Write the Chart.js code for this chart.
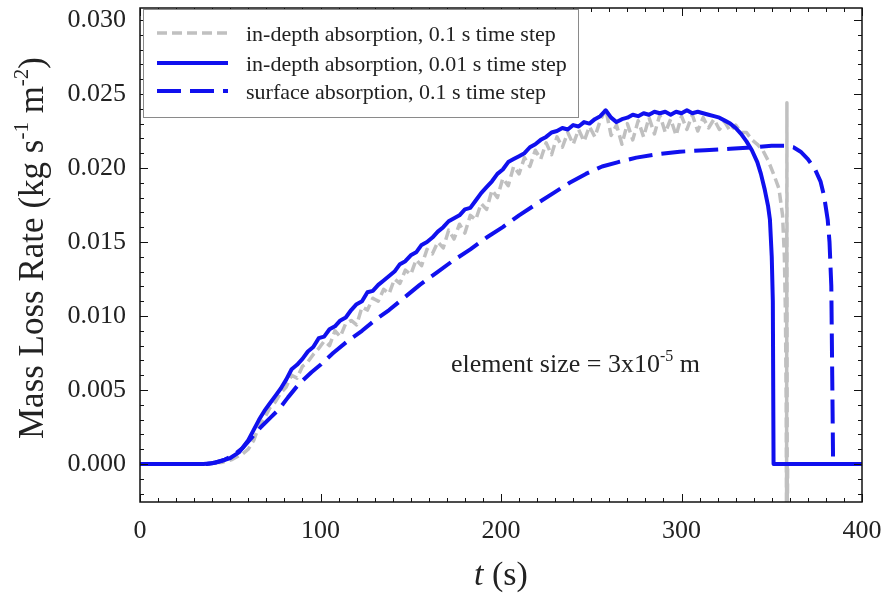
<!DOCTYPE html>
<html><head><meta charset="utf-8">
<script src="https://cdn.jsdelivr.net/npm/chart.js@4.4.1/dist/chart.umd.min.js"></script>
<style>html,body{margin:0;padding:0;background:#fff}</style>
</head><body><canvas id="c" width="886" height="594"></canvas>
<script>
// ---------- data ----------
const seriesNames = [
  "in-depth absorption, 0.1 s time step",
  "in-depth absorption, 0.01 s time step",
  "surface absorption, 0.1 s time step"
];
const xTicks = [0, 100, 200, 300, 400];
const yTicks = [0, 0.005, 0.010, 0.015, 0.020, 0.025, 0.030];

// in-depth absorption, 0.1 s time step (gray dashed)
const grayT = [0,36,39,42,45,48,51,54,57,60,63,66,69,72,75,78,81,84,87,90,93,96,99,102,105,108,111,114,117,120,
  123,126,129,132,135,138,141,144,147,150,153,156,159,162,165,168,171,174,177,180,183,186,189,192,195,198,201,204,207,210,
  213,216,219,222,225,228,231,234,237,240,243,246,249,252,255,258,261,264,267,270,273,276,279,282,285,288,291,294,297,300,
  303,306,309,312,315,318,321,324,327,330,333,336,339,342,345,348,351,354,356,357,357.6,358.0,358.2,358.4,358.6,358.8,400];
const grayV = [0,0,0.00002,0.0001,0.0001,0.0002,0.0003,0.0005,0.0007,0.0010,0.0016,0.0026,0.0031,0.0038,0.0042,0.0048,0.0052,0.0060,0.0058,0.0066,0.0069,0.0074,0.0078,0.0083,0.0080,0.0090,0.0086,0.0095,0.0097,0.0094,
  0.0106,0.0104,0.0112,0.0110,0.0118,0.0115,0.0125,0.0122,0.0131,0.0128,0.0138,0.0134,0.0145,0.0142,0.0150,0.0146,0.0158,0.0152,0.0162,0.0156,0.0168,0.0165,0.0176,0.0172,0.0185,0.0180,0.0193,0.0188,0.0201,0.0196,
  0.0207,0.0201,0.0212,0.0206,0.0217,0.0209,0.0221,0.0214,0.0224,0.0216,0.0226,0.0218,0.0228,0.0221,0.0232,0.0240,0.0222,0.0229,0.0216,0.0230,0.0219,0.0232,0.0221,0.0234,0.0223,0.0236,0.0224,0.0233,0.0222,0.0235,
  0.0226,0.0236,0.0225,0.0234,0.0227,0.0233,0.0226,0.0231,0.0225,0.0229,0.0224,0.0224,0.0219,0.0216,0.0212,0.0205,0.0196,0.0186,0.0168,0.0140,0.0100,0.0040,-0.0050,0.0244,-0.0050,0,0];

// in-depth absorption, 0.01 s time step (blue solid)
const solidT = [0,35,40,45,50,55,60,63,66,69,72,75,78,81,84,87,90,93,96,99,102,105,108,111,114,117,120,123,126,129,
  132,135,138,141,144,147,150,153,156,159,162,165,168,171,174,177,180,183,186,189,192,195,198,201,204,207,210,213,216,219,
  222,225,228,231,234,237,240,243,246,249,252,255,258,261,264,267,270,273,276,279,282,285,288,291,294,297,300,303,306,309,
  312,315,318,321,324,327,330,333,336,339,342,344,346,348,349,350,350.6,351,400];
const solidV = [0,0,0.00005,0.0002,0.0004,0.0008,0.0016,0.0023,0.0030,0.0036,0.0041,0.0046,0.0051,0.0057,0.0064,0.0067,0.0071,0.0076,0.0079,0.0085,0.0086,0.0091,0.0093,0.0097,0.0099,0.0104,0.0108,0.0110,0.0116,0.0117,
  0.0121,0.0124,0.0127,0.0130,0.0135,0.0137,0.0141,0.0143,0.0148,0.0150,0.0153,0.0157,0.0160,0.0164,0.0166,0.0168,0.0172,0.0173,0.0178,0.0183,0.0187,0.0191,0.0196,0.0199,0.0204,0.0206,0.0208,0.0210,0.0214,0.0216,
  0.0219,0.0221,0.0224,0.0225,0.0227,0.0226,0.0229,0.0228,0.0231,0.0230,0.0233,0.0235,0.0239,0.0234,0.0231,0.0233,0.0234,0.0236,0.0235,0.0237,0.0236,0.0238,0.0237,0.0238,0.0236,0.0238,0.0237,0.0239,0.0237,0.0238,
  0.0237,0.0236,0.0235,0.0234,0.0232,0.0230,0.0227,0.0223,0.0218,0.0212,0.0204,0.0196,0.0186,0.0174,0.0165,0.0140,0.0110,0,0];

// surface absorption, 0.1 s time step (blue dashed)
const surfT = [0,37,42,47,52,57,62,67,72,77,82,88,95,100,107,115,123,130,138,146,155,164,173,183,192,201,210,220,229,238,
  247,256,265,275,285,299,313,327,340,350,357,362,366,370,374,377,379,381,382,383,383.5,384,400];
const surfV = [0,0,0.0001,0.0003,0.0006,0.0011,0.0018,0.0025,0.0031,0.0037,0.0045,0.0054,0.0062,0.0067,0.0075,0.0083,0.0090,0.0097,0.0104,0.0112,0.0121,0.0129,0.0137,0.0145,0.0153,0.0160,0.0168,0.0176,0.0183,0.0190,
  0.0196,0.0201,0.0204,0.0207,0.0209,0.0211,0.0212,0.0213,0.0214,0.0215,0.0215,0.0214,0.0211,0.0206,0.0199,0.0191,0.0181,0.0165,0.0150,0.0120,0.0060,0,0];

const yTitleParts = [{t:"Mass Loss Rate (kg s"},{t:"-1",sup:true},{t:" m"},{t:"-2",sup:true},{t:")"}];
const xTitleParts = [{t:"t",it:true},{t:" (s)"}];
const noteParts = [{t:"element size = 3x10"},{t:"-5",sup:true},{t:" m"}];

// ---------- styles ----------
const SERIF = "'Liberation Serif','Times New Roman',serif";
const GRAY = "#c0c0c0", BLUE = "#1010ee";
const styles = [
  {color:GRAY, width:3.5, dash:[10,5]},
  {color:BLUE, width:4, dash:[]},
  {color:BLUE, width:4, dash:[24,9]}
];
function pts(T,V){return T.map((t,i)=>({x:t,y:V[i]}));}

function drawRich(ctx, parts, size, x, y, align){
  const supSize = Math.round(size*0.6);
  let total = 0;
  const w = parts.map(p=>{
    ctx.font = (p.it?"italic ":"") + (p.sup?supSize:size) + "px " + SERIF;
    const m = ctx.measureText(p.t).width; total += m; return m;});
  let cx = align==="center" ? x - total/2 : x;
  parts.forEach((p,i)=>{
    ctx.font = (p.it?"italic ":"") + (p.sup?supSize:size) + "px " + SERIF;
    ctx.fillText(p.t, cx, p.sup ? y - size*0.42 : y);
    cx += w[i];
  });
}
function noPad(s){s.paddingTop=0;s.paddingBottom=0;s.paddingLeft=0;s.paddingRight=0;}

const framePlugin = {
  id:"frame",
  afterDatasetsDraw(chart){
    const {ctx, chartArea:a, scales} = chart;
    const xs = scales.x, ys = scales.y;
    ctx.save();
    ctx.strokeStyle = "#111"; ctx.lineWidth = 1.5;
    ctx.strokeRect(a.left, a.top, a.right-a.left, a.bottom-a.top);
    ctx.lineWidth = 1;
    ctx.beginPath();
    for(let v=0; v<=400; v+=10){
      const p = Math.round(xs.getPixelForValue(v))+0.5;
      const L = (v%100===0)?8:4;
      ctx.moveTo(p,a.bottom); ctx.lineTo(p,a.bottom-L);
      ctx.moveTo(p,a.top); ctx.lineTo(p,a.top+L);
    }
    for(let k=-2; k<=30; k++){
      const v = k/1000;
      const p = Math.round(ys.getPixelForValue(v))+0.5;
      const L = (k%5===0)?8:4;
      ctx.moveTo(a.left,p); ctx.lineTo(a.left+L,p);
      ctx.moveTo(a.right,p); ctx.lineTo(a.right-L,p);
    }
    ctx.stroke();
    ctx.restore();
  },
  afterDraw(chart){
    const {ctx, chartArea:a} = chart;
    ctx.save();
    // legend
    ctx.fillStyle="#fff"; ctx.fillRect(143.5,9.5,435,108);
    ctx.strokeStyle="#8a8a8a"; ctx.lineWidth=1; ctx.strokeRect(143.5,9.5,435,108);
    const ly = [33,63,91];
    seriesNames.forEach((n,i)=>{
      const s = styles[i];
      ctx.strokeStyle=s.color; ctx.lineWidth=s.width; ctx.setLineDash(s.dash);
      ctx.beginPath(); ctx.moveTo(157,ly[i]); ctx.lineTo(228,ly[i]); ctx.stroke();
      ctx.setLineDash([]);
      ctx.fillStyle="#222"; ctx.font="22px "+SERIF; ctx.textBaseline="middle"; ctx.textAlign="left";
      ctx.fillText(n, 246, ly[i]+2);
    });
    // note
    ctx.textBaseline="alphabetic"; ctx.fillStyle="#222";
    drawRich(ctx, noteParts, 26, 451, 372, "left");
    // x title
    drawRich(ctx, xTitleParts, 34, (a.left+a.right)/2, 585, "center");
    // y title
    ctx.translate(43, 248); ctx.rotate(-Math.PI/2);
    drawRich(ctx, yTitleParts, 35, 0, 0, "center");
    ctx.restore();
  }
};

new Chart(document.getElementById("c"), {
  type:"line",
  data:{datasets:[
    {label:seriesNames[0], data:pts(grayT,grayV), borderColor:GRAY, borderWidth:styles[0].width, borderDash:styles[0].dash, order:3},
    {label:seriesNames[1], data:pts(solidT,solidV), borderColor:BLUE, borderWidth:styles[1].width, borderDash:styles[1].dash, order:1},
    {label:seriesNames[2], data:pts(surfT,surfV), borderColor:BLUE, borderWidth:styles[2].width, borderDash:styles[2].dash, order:2}
  ]},
  options:{
    responsive:false, animation:false, devicePixelRatio:1,
    parsing:false,
    elements:{point:{radius:0}, line:{tension:0, fill:false, borderCapStyle:"butt", borderJoinStyle:"round"}},
    layout:{padding:{top:8,right:24,left:0,bottom:0}},
    plugins:{legend:{display:false}, tooltip:{enabled:false}},
    scales:{
      x:{type:"linear", min:0, max:400,
        grid:{display:false, drawTicks:false}, border:{display:false},
        afterBuildTicks(s){s.ticks = xTicks.map(v=>({value:v}));},
        afterFit(s){s.height = 92; noPad(s);},
        ticks:{font:{family:SERIF,size:26}, color:"#222", padding:14, maxRotation:0, callback:v=>String(v)}},
      y:{type:"linear", min:-0.00257, max:0.03081,
        grid:{display:false, drawTicks:false}, border:{display:false},
        afterBuildTicks(s){s.ticks = yTicks.map(v=>({value:v}));},
        afterFit(s){s.width = 140; noPad(s);},
        ticks:{font:{family:SERIF,size:26}, color:"#222", padding:14, callback:v=>Number(v).toFixed(3)}}
    }
  },
  plugins:[framePlugin]
});
</script></body></html>
